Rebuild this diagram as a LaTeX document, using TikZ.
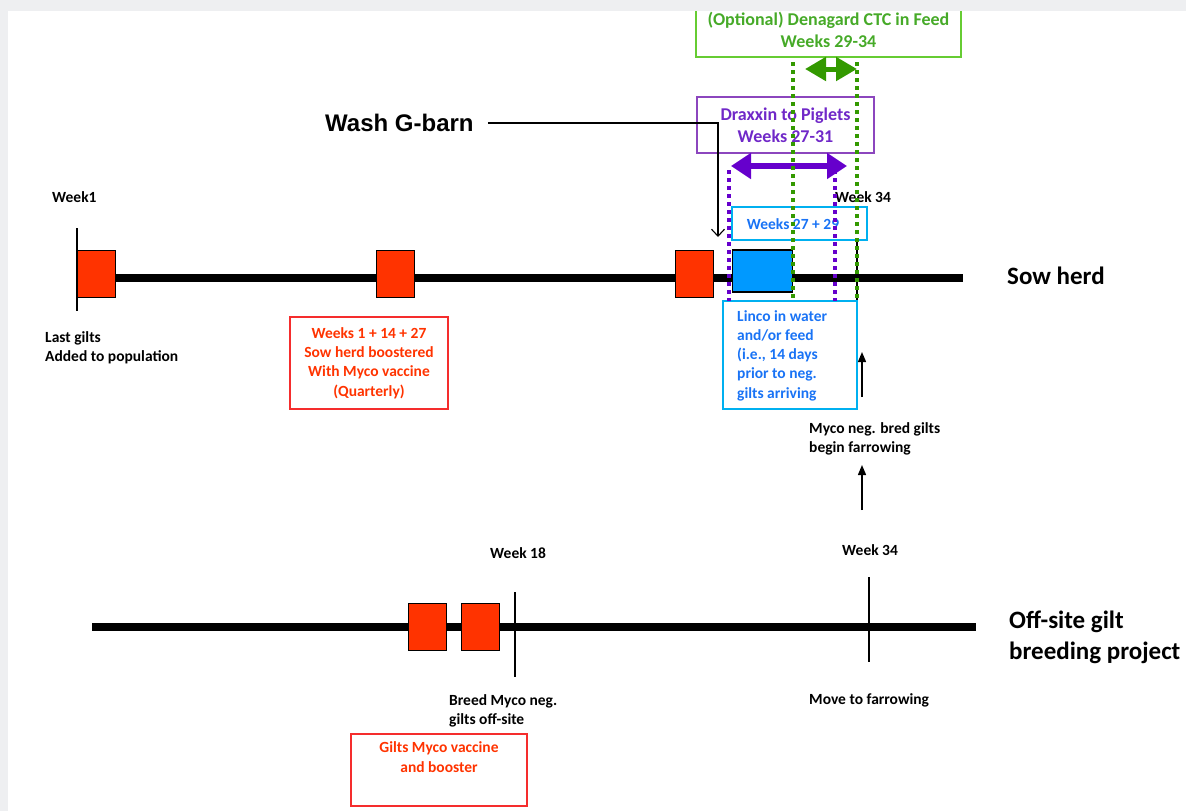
\documentclass[tikz,border=0pt]{standalone}
\usepackage{fontspec}
\setmainfont{Carlito}
\newfontfamily\arialfont{Liberation Sans}
\usepackage{xcolor}
\usepackage{tikz}
\usetikzlibrary{arrows.meta, positioning}
\definecolor{framegray}{RGB}{238,239,241}
\definecolor{vacred}{RGB}{255,51,0}
\definecolor{boxred}{RGB}{245,45,45}
\definecolor{lincoblue}{RGB}{0,153,255}
\definecolor{lincocyan}{RGB}{0,176,240}
\definecolor{lincotext}{RGB}{25,115,245}
\definecolor{draxline}{RGB}{140,70,190}
\definecolor{draxtext}{RGB}{112,40,200}
\definecolor{draxpurple}{RGB}{102,0,204}
\definecolor{ctcline}{RGB}{102,204,51}
\definecolor{ctctext}{RGB}{70,170,40}
\definecolor{ctcgreen}{RGB}{51,153,0}

\begin{document}
\begin{tikzpicture}[
    x=1pt, y=-1pt,        % pixel grid of the slide
    timeline/.style={line width=8pt},
    tick/.style={line width=1.3pt},
    vac/.style={rectangle, draw=black, fill=vacred, line width=0.8pt,
                minimum width=38pt, minimum height=47pt, inner sep=0pt},
    small/.style={font=\bfseries\fontsize{15.5}{19}\selectfont, inner sep=0pt, align=left},
    big/.style={font=\bfseries\fontsize{25}{31}\selectfont, inner sep=0pt, align=left},
    redbox/.style={rectangle, draw=boxred, line width=1.2pt, text=vacred,
                   font=\bfseries\fontsize{15.5}{19.3}\selectfont, align=center},
    notebox/.style={rectangle, line width=1.2pt, font=\bfseries\fontsize{18}{22}\selectfont,
                    align=center},
    pointer/.style={line width=1.1pt, -{Straight Barb[length=7pt,width=13pt]}},
    uparrow/.style={line width=1.4pt, -{Triangle[length=10pt,width=8pt]}},
    span/.style={line width=6pt, {Triangle[length=20pt,width=25pt]}-{Triangle[length=20pt,width=25pt]}},
    dots/.style={line width=3.6pt, dash pattern=on 3.6pt off 4.4pt}
]
\useasboundingbox (0,0) rectangle (1186,811);

% timelines
\draw[timeline] (115,278) -- (963,278);
\draw[timeline] (92,627) -- (976,627);
\draw[tick] (77,228) -- (77,311);
\draw[tick] (857,240) -- (857,300);
\draw[tick] (515,592) -- (515,677);
\draw[tick] (869,577) -- (869,662);

% vaccinations
\node[vac] (v1) at (96,273.5) {};
\node[vac] (v2) at (395.5,273.5) {};
\node[vac] (v3) at (694.5,273.5) {};
\node[vac] (v4) at (427.5,626.5) {};
\node[vac] (v5) at (480.5,626.5) {};
\node[rectangle, draw=black, fill=lincoblue, line width=1.8pt, minimum width=60pt,
      minimum height=42pt, inner sep=0pt] (lincobar) at (762.5,271) {};

% labels
\node[small, anchor=west] (wk1) at (52,197) {Week1};
\node[small, anchor=north west] (lastgilts) at (45,331) {Last gilts\\Added to population};
\node[small, anchor=west] (wk34) at (835,197) {Week 34};
\node[small, anchor=north west] (myco) at (809,422) {Myco neg. bred gilts\\begin farrowing};
\node[small, anchor=west] (wk18) at (490,553) {Week 18};
\node[small, anchor=west] (wk34b) at (842,550) {Week 34};
\node[small, anchor=north west] (breed) at (449,694) {Breed Myco neg.\\gilts off-site};
\node[small, anchor=west] (move) at (809,700) {Move to farrowing};
\node[big, anchor=west] (sow) at (1007,276) {Sow herd};
\node[big, anchor=north west] (offsite) at (1009,611) {Off-site gilt\\breeding project};
\node[font=\arialfont\bfseries\fontsize{24}{28}\selectfont, inner sep=0pt, anchor=west]
    (wash) at (325,123) {Wash G-barn};

% boxes
\node[redbox, minimum width=158pt, minimum height=92pt] (boost) at (369,363)
    {Weeks 1 + 14 + 27\\Sow herd boostered\\With Myco vaccine\\(Quarterly)};
\node[redbox, minimum width=176pt, minimum height=72pt] (gvac) at (439,770) {};
\node[redbox, draw=none, inner sep=0pt, below=8pt of gvac.north] (gvactext)
    {Gilts Myco vaccine\\and booster};
\node[rectangle, draw=lincocyan, line width=1.8pt, minimum width=134pt,
      minimum height=108pt] (linco) at (790,355) {};
\node[font=\bfseries\fontsize{15.5}{19.3}\selectfont, text=lincotext, align=left,
      inner sep=0pt, anchor=north west] (lincotxt) at (737,310)
    {Linco in water\\and/or feed\\(i.e., 14 days\\prior to neg.\\gilts arriving};
\node[rectangle, draw=lincocyan, line width=1.2pt, minimum width=135pt,
      minimum height=33pt] (linwk) at (799.5,223.5) {};
\node[font=\bfseries\fontsize{15.5}{19}\selectfont, text=lincotext, inner sep=0pt]
    (linwktxt) at (793,224) {Weeks 27 + 29};
\node[notebox, draw=draxline, text=draxtext, minimum width=177pt, minimum height=56pt]
    (drax) at (785.5,125) {Draxxin to Piglets\\Weeks 27-31};
\node[notebox, draw=ctcline, text=ctctext, minimum width=265pt, minimum height=55pt]
    (ctc) at (828.5,29.5) {(Optional) Denagard CTC in Feed\\Weeks 29-34};

% arrows
\coordinate (washend) at (718,237);
\draw[pointer, shorten <=14pt] (wash.east) -| (washend);
\coordinate (farrowA) at (862,397);
\coordinate (farrowB) at (862,352);
\coordinate (farrowC) at (862,510);
\coordinate (farrowD) at (862,465);
\draw[uparrow] (farrowA) -- (farrowB);
\draw[uparrow] (farrowC) -- (farrowD);
\coordinate (draxL) at (731,166);
\coordinate (draxR) at (847,166);
\draw[span, draxpurple] (draxL) -- (draxR);
\coordinate (ctcL) at (805,69);
\coordinate (ctcR) at (857,69);
\draw[span, ctcgreen, line width=5pt, {Triangle[length=21pt,width=23pt]}-{Triangle[length=21pt,width=23pt]}]
    (ctcL) -- (ctcR);

% treatment windows
\draw[dots, draxpurple] (729,170) -- (729,301);
\draw[dots, draxpurple] (835,170) -- (835,301);
\draw[dots, ctcgreen] (793,62) -- (793,300);
\draw[dots, ctcgreen] (857,62) -- (857,300);

% slide frame
\fill[framegray] (0,0) rectangle (1186,11);
\fill[framegray] (0,0) rectangle (8,811);
\end{tikzpicture}
\end{document}
